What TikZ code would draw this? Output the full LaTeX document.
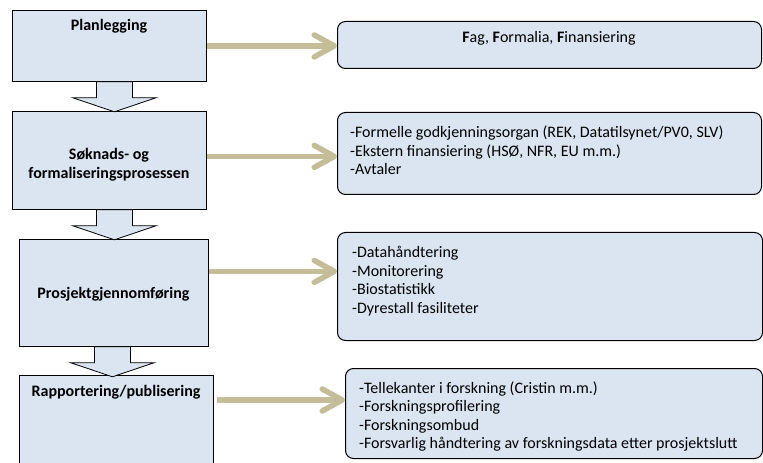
\documentclass[tikz,border=0pt]{standalone}
\usepackage{fontspec}
\setmainfont{Carlito}
\usetikzlibrary{arrows.meta}
\definecolor{boxblue}{HTML}{DBE5F1}
\definecolor{linktan}{HTML}{C4BD97}
\tikzset{
	textnode/.style = {
		inner sep=0pt,
		font=\fontsize{16bp}{18.6bp}\selectfont
	},
	node_step/.style = {
		rectangle,
		draw=black,
		fill=boxblue,
		line width=0.8bp,
		anchor=north west,
		inner sep=0pt
	},
	node_info/.style = {
		node_step,
		rounded corners=8bp,
		line width=1bp
	},
	node_title/.style = {
		textnode,
		align=center,
		font=\fontsize{16bp}{19bp}\selectfont\bfseries
	},
	node_list/.style = {
		textnode,
		align=left,
		anchor=west
	},
	arrow_down/.style = {
		draw=black,
		fill=boxblue,
		line width=0.8bp,
		line join=miter
	},
	arrow_link/.style = {
		draw=linktan,
		line width=5.5bp,
		-{Straight Barb[length=20bp,width=22bp,round]}
	},
}

\begin{document}
\begin{tikzpicture}[x=1bp, y=-1bp]
\clip (0,0) rectangle (763,463);
\node [node_step, minimum width=194bp, minimum height=71bp] (plan) at (12,10) {};
\node [node_step, minimum width=194bp, minimum height=98bp] (soknad) at (12,111) {};
\node [node_step, minimum width=189bp, minimum height=107bp] (gjen) at (19,239) {};
\node [node_step, minimum width=194bp, minimum height=120bp] (rapp) at (19,375) {};

\node [node_title, anchor=base] (plan_t) at (109,31) {Planlegging};
\node [node_title] (soknad_t) at (109,164.5) {Søknads- og\\formaliseringsprosessen};
\node [node_title, anchor=base] (gjen_t) at (113.5,298.5) {Prosjektgjennomføring};
\node [node_title, anchor=base] (rapp_t) at (116,396.5) {Rapportering/publisering};

\node [node_info, minimum width=424bp, minimum height=47bp] (fag) at (337,21) {};
\node [node_info, minimum width=424bp, minimum height=82bp] (avtale) at (337,112) {};
\node [node_info, minimum width=425bp, minimum height=108bp] (drift) at (337,232) {};
\node [node_info, minimum width=417bp, minimum height=90bp] (publ) at (345,368) {};

\node [textnode, anchor=base] (fag_t) at (549,42.5) {\textbf{F}ag, \textbf{F}ormalia, \textbf{F}inansiering};
\node [node_list] (avtale_t) at (350,150.5) {-Formelle godkjenningsorgan (REK, Datatilsynet/PV0, SLV)\\-Ekstern finansiering (HSØ, NFR, EU m.m.)\\-Avtaler};
\node [node_list] (drift_t) at (352,281) {-Datahåndtering\\-Monitorering\\-Biostatistikk\\-Dyrestall fasiliteter};
\node [node_list] (publ_t) at (359,416.5) {-Tellekanter i forskning (Cristin m.m.)\\-Forskningsprofilering\\-Forskningsombud\\-Forsvarlig håndtering av forskningsdata etter prosjektslutt};

\foreach \s/\dx in {plan/-13, soknad/-13, gjen/-19.5}
	\draw [arrow_down] ([xshift=\dx bp]\s.south) -- ++(0,16) -- ++(-23.5,0) -- ++(41.5,14) -- ++(41.5,-14) -- ++(-23.5,0) -- ++(0,-16) -- cycle;

\coordinate (avtale_in) at ([yshift=4bp]soknad.east -| avtale.west);
\coordinate (drift_in) at ([yshift=21.5bp]gjen.east -| drift.west);
\coordinate (publ_in) at ([yshift=13.5bp]publ.west);
\coordinate (rapp_out) at ([xshift=3bp]rapp.east);
\draw [arrow_link] (plan.east) -- (plan.east -| fag.west);
\draw [arrow_link] (soknad.east |- avtale_in) -- (avtale_in);
\draw [arrow_link] (gjen.east |- drift_in) -- (drift_in);
\draw [arrow_link] (rapp_out |- publ_in) -- (publ_in);
\end{tikzpicture}
\end{document}
